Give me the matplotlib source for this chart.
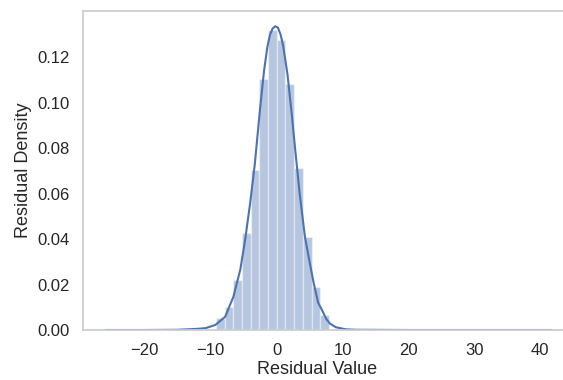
import numpy as np
import matplotlib
matplotlib.use("Agg")
import matplotlib.pyplot as plt
import seaborn as sns

# histogram of residuals (density), 50 bins
bin_edges = np.linspace(-24.95, 40.8, 51)
density = ([0.0001] + [0.0] * 11 +
           [0.0051, 0.0103, 0.0220, 0.0425, 0.0703, 0.1106, 0.1319,
            0.1275, 0.1084, 0.0711, 0.0410, 0.0190, 0.0066] +
           [0.0] * 24 + [0.0001])

# kde curve
kde_x = [-26.0, -20.0, -15.0, -12.0, -10.8, -9.3, -7.8, -6.55, -5.5, -4.75,
         -4.0, -3.3, -2.5, -1.9, -1.4, -1.0, -0.6, -0.2, 0.2, 0.6, 1.0, 1.65,
         2.3, 2.8, 3.5, 4.3, 5.0, 5.6, 6.3, 6.85, 7.5, 8.1,
         9.0, 10.5, 12.0, 20.0, 30.0, 41.7]
kde_y = [0.0, 0.0, 0.0001, 0.0005, 0.0008, 0.0022, 0.0058, 0.0146, 0.0266, 0.040,
         0.056, 0.073, 0.0975, 0.114, 0.1245, 0.1298, 0.1326, 0.1336, 0.1330, 0.1300, 0.1250, 0.1125,
         0.0950, 0.080, 0.060, 0.041, 0.030, 0.021, 0.012, 0.0090, 0.005, 0.0028,
         0.0012, 0.0003, 0.0001, 0.0, 0.0, 0.0]

yticks = [0.00, 0.02, 0.04, 0.06, 0.08, 0.10, 0.12]

sns.set_theme(style="white")
plt.rcParams['font.family'] = ['Liberation Sans', 'DejaVu Sans']
plt.rcParams['axes.edgecolor'] = '.8'

fig = plt.figure(figsize=(5.63, 3.80), dpi=100)
ax = fig.add_axes([82.7 / 563, 50 / 380, (574 - 82.7) / 563, 319 / 380])

col = '#4c72b0'
widths = np.diff(bin_edges)
ax.bar(bin_edges[:-1], density, width=widths, align='edge',
       color=col, alpha=0.4, edgecolor='white', linewidth=1)
ax.plot(kde_x, kde_y, color=col, linewidth=1.5)

ax.set_xlim(-29.4, 45.1)
ax.set_ylim(0, 0.1403)
ax.set_yticks(yticks)
ax.set_yticklabels([f"{v:.2f}" for v in yticks])
ax.set_xticks([-20, -10, 0, 10, 20, 30, 40])
ax.tick_params(labelsize=12)

ax.set_xlabel("Residual Value", fontsize=13)
ax.set_ylabel("Residual Density", fontsize=13)
ax.xaxis.set_label_coords(0.477, -0.098)

fig.savefig("out.png", dpi=100)
